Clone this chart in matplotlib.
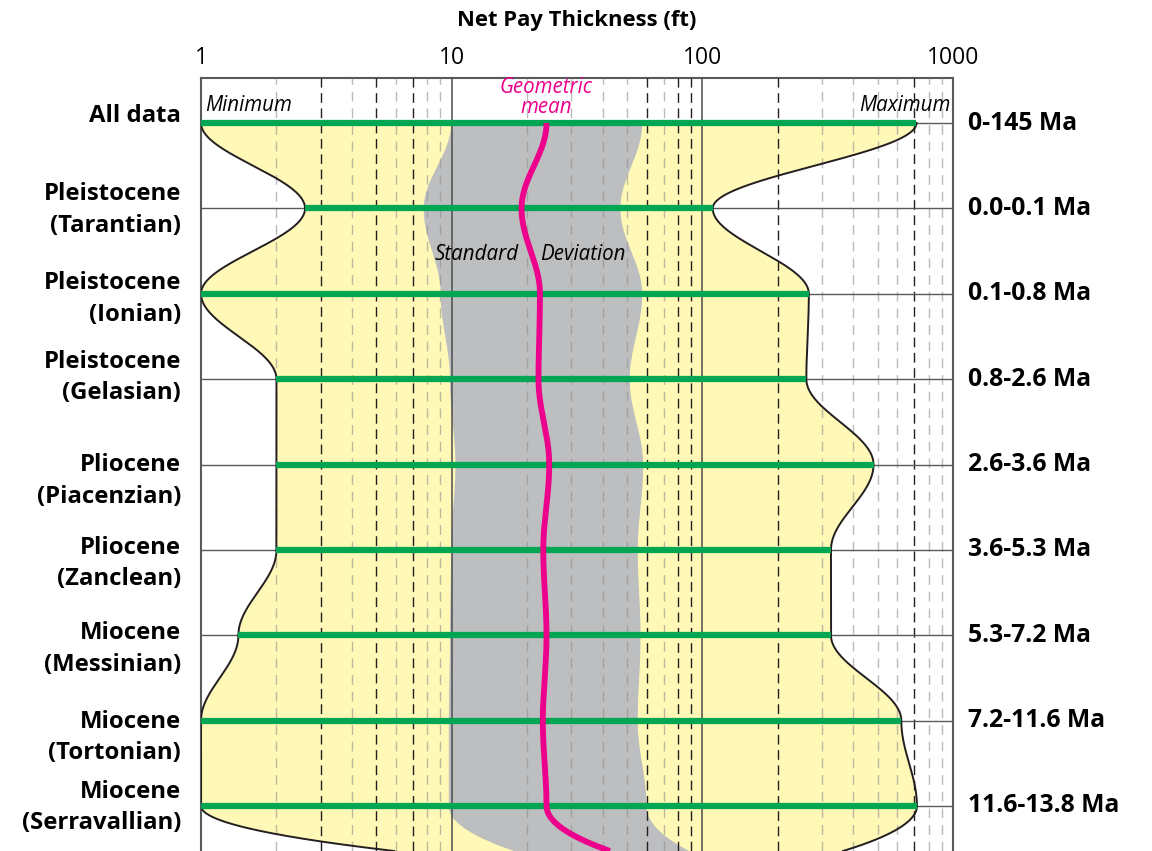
import numpy as np
import matplotlib
matplotlib.use("Agg")
import matplotlib.pyplot as plt

plt.rcParams['font.family'] = ['Open Sans', 'DejaVu Sans']
plt.rcParams['lines.scale_dashes'] = False

# ---- data -------------------------------------------------------------
stages = ["All data", "Pleistocene\n(Tarantian)", "Pleistocene\n(Ionian)",
          "Pleistocene\n(Gelasian)", "Pliocene\n(Piacenzian)", "Pliocene\n(Zanclean)",
          "Miocene\n(Messinian)", "Miocene\n(Tortonian)", "Miocene\n(Serravallian)"]
ages = ["0-145 Ma", "0.0-0.1 Ma", "0.1-0.8 Ma", "0.8-2.6 Ma", "2.6-3.6 Ma",
        "3.6-5.3 Ma", "5.3-7.2 Ma", "7.2-11.6 Ma", "11.6-13.8 Ma"]

minimum = [1.0, 2.6, 1.0, 2.0, 2.0, 2.0, 1.41, 1.0, 1.0]
maximum = [715, 110, 266, 260, 482, 326, 326, 622, 718]
sd_low = [9.9, 7.7, 9.0, 9.8, 10.3, 9.9, 9.8, 9.7, 9.7]
sd_high = [57.3, 46.9, 57.3, 51.1, 57.8, 55.0, 56.4, 55.0, 59.6]
geo_mean = [23.9, 19.0, 22.5, 22.2, 24.5, 23.2, 23.9, 23.1, 23.9]

# values where the older (next) interval continues past the lower edge
tail_min, tail_max, tail_sd_low, tail_sd_high, tail_mean = 5.9, 364, 17.9, 89, 42.8

x_ticks = [1, 10, 100, 1000]
grid_dark = [3, 5, 7, 60, 80, 90, 200, 700]
grid_light = [2, 4, 6, 8, 9, 20, 30, 40, 50, 70, 300, 400, 500, 600, 800, 900]
grid_decade = [10, 100]

# ---- layout -----------------------------------------------------------
W, H, DPI = 1152, 851, 100
row_px = 85.375
top_px, first_row_px = 78, 123
y_top = -(first_row_px - top_px) / row_px
y_bot = (H - first_row_px) / row_px
label_shift = [-0.08, 0.02, 0.06, -0.02, 0.19, 0.16, 0.16, 0.2, 0.02]

YELLOW = '#FFF8B6'
GREY = '#BCBEC0'
GREEN = '#00A651'
PINK = '#EC008C'
DARK = '#231F20'
SPINE = '#58595B'


def profile(values, tail, n=200):
    """Smooth log-space profile through the row values, easing into the tail."""
    lv = np.log10(values)
    ys, xs = [], []
    for i in range(len(lv) - 1):
        t = np.linspace(0, 1, n, endpoint=False)
        s = (1 - np.cos(np.pi * t)) / 2
        ys.append(i + t)
        xs.append(lv[i] + (lv[i + 1] - lv[i]) * s)
    t = np.linspace(0, 1, n)
    ys.append(len(lv) - 1 + t * (y_bot - (len(lv) - 1)))
    xs.append(lv[-1] + (np.log10(tail) - lv[-1]) * t ** 2)
    return np.concatenate(ys), 10 ** np.concatenate(xs)


fig = plt.figure(figsize=(W / DPI, H / DPI), dpi=DPI)
ax = fig.add_axes([201 / W, 0, (953 - 201) / W, (H - top_px) / H])
ax.set_xscale('log')
ax.set_xlim(1, 1000)
ax.set_ylim(y_bot, y_top)

yy, lo = profile(minimum, tail_min)
_, hi = profile(maximum, tail_max)
_, sl = profile(sd_low, tail_sd_low)
_, sh = profile(sd_high, tail_sd_high)
_, gm = profile(geo_mean, tail_mean)

ax.fill_betweenx(yy, lo, hi, color=YELLOW, lw=0, zorder=1)
ax.fill_betweenx(yy, sl, sh, color=GREY, lw=0, zorder=2)

for v in grid_light:
    ax.axvline(v, color='#8f8f8f', alpha=0.6, lw=1.0, ls=(0, (7, 5)), zorder=3)
for v in grid_dark:
    ax.axvline(v, color=DARK, lw=1.0, ls=(0, (7, 4)), zorder=3)
for v in grid_decade:
    ax.axvline(v, color='#4d4d4d', lw=1.1, zorder=3)

rows = np.arange(len(stages))
for r in rows:
    ax.axhline(r, color=SPINE, lw=1.0, zorder=3.5)

ax.plot(lo, yy, color=DARK, lw=1.4, zorder=4)
ax.plot(hi, yy, color=DARK, lw=1.4, zorder=4)
ax.hlines(rows, minimum, maximum, color=GREEN, lw=4.5, zorder=5)
ax.plot(gm, yy, color=PINK, lw=4.2, zorder=6, solid_capstyle='butt')

# axes frame and top tick labels
for side in ('top', 'left', 'right'):
    ax.spines[side].set_color(SPINE)
    ax.spines[side].set_linewidth(1.5)
ax.spines['bottom'].set_visible(False)
ax.xaxis.tick_top()
ax.set_xticks(x_ticks)
ax.set_xticklabels([str(v) for v in x_ticks])
ax.xaxis.set_minor_locator(matplotlib.ticker.NullLocator())
ax.tick_params(axis='x', length=0, pad=6, labelsize=16.5)
ax.set_yticks([])
ax.set_xlabel('Net Pay Thickness (ft)', fontsize=15.8, fontweight='bold', labelpad=14)
ax.xaxis.set_label_position('top')

# row labels
for r, (name, age) in enumerate(zip(stages, ages)):
    fig.text(181 / W, 1 - (first_row_px + (r + label_shift[r]) * row_px) / H, name,
             ha='right', va='center', ma='right', fontsize=17.2, fontweight='bold',
             linespacing=1.42)
    ax.annotate(age, xy=(1, r), xycoords=('axes fraction', 'data'),
                xytext=(11, 0), textcoords='offset points', ha='left', va='center',
                fontsize=17.8, fontweight='bold', annotation_clip=False)

# annotations
ax.text(1.04, -0.2, 'Minimum', style='italic', fontsize=14.8, ha='left', va='center', zorder=7)
ax.text(975, -0.2, 'Maximum', style='italic', fontsize=14.8, ha='right', va='center', zorder=7)
ax.text(23.8, -0.3, 'Geometric\nmean', style='italic', fontsize=14.8, color=PINK,
        ha='center', va='center', linespacing=0.92, zorder=7)
ax.text(18.6, 1.54, 'Standard', style='italic', fontsize=14.8, ha='right', va='center', zorder=7)
ax.text(22.5, 1.54, 'Deviation', style='italic', fontsize=14.8, ha='left', va='center', zorder=7)

fig.savefig('out.png', dpi=DPI)
